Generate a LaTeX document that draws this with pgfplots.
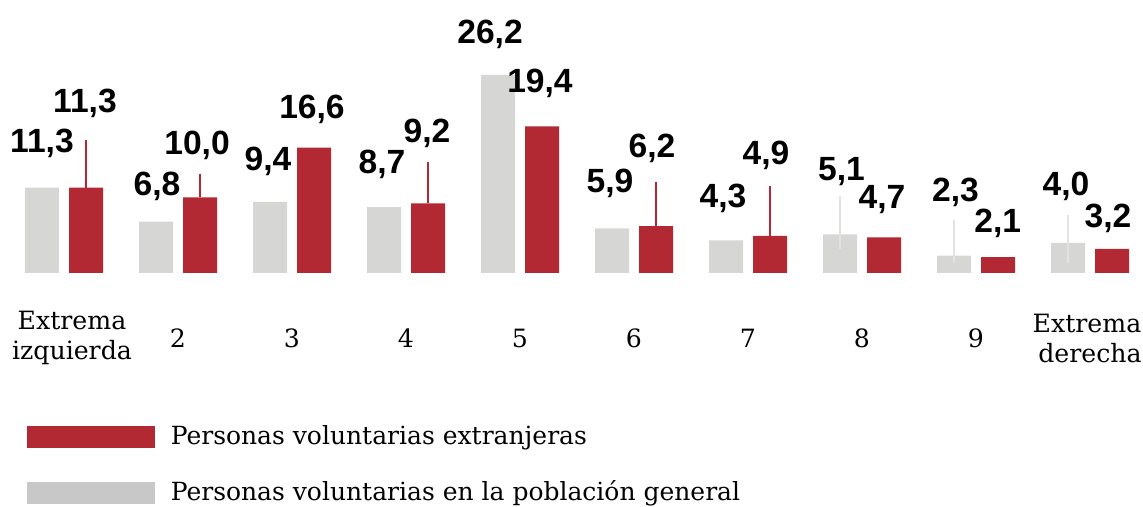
\documentclass[border=0pt]{standalone}
\usepackage{fontspec}
\setmainfont{DejaVu Serif}
\newfontfamily\labfamily{Liberation Sans}
\usepackage{pgfplots}
\usepackage{pgfplotstable}
\pgfplotsset{compat=1.18}
\definecolor{redc}{HTML}{B22833}
\definecolor{grayc}{HTML}{D6D6D4}
\definecolor{graylg}{HTML}{C8C8C8}
\definecolor{grayerr}{HTML}{E2E2E2}
\newcommand{\labfont}{\labfamily\bfseries\fontsize{16.8}{20}\selectfont}
\pgfplotstableread{
x y ep em
-0.193 11.3 0 0
0.807 6.8 0 0
1.807 9.4 0 0
2.807 8.7 0 0
3.807 26.2 0 0
4.807 5.9 0 0
5.807 4.3 0 0
6.807 5.1 5.1 1.9
7.807 2.3 4.7 1.0
8.807 4.0 3.7 2.7
}\graydata
\pgfplotstableread{
x y ep em
0.193 11.3 6.3 0
1.193 10.0 3.1 0
2.193 16.6 0 0
3.193 9.2 5.5 0
4.193 19.4 0 0
5.193 6.2 5.8 0
6.193 4.9 6.6 0
7.193 4.7 0 0
8.193 2.1 0 0
9.193 3.2 0 0
}\reddata
\pgfplotstableread{
x y lab
-0.193 16.0 {11,3}
0.816 10.3 {6,8}
1.79 13.6 {9,4}
2.79 13.2 {8,7}
3.737 30.4 {26,2}
4.79 10.6 {5,9}
5.78 8.7 {4,3}
6.82 12.2 {5,1}
7.82 9.4 {2,3}
8.79 10.3 {4,0}
}\graylab
\pgfplotstableread{
x y lab
0.184 21.2 {11,3}
1.167 15.7 {10,0}
2.175 20.4 {16,6}
3.184 17.2 {9,2}
4.175 23.9 {19,4}
5.158 15.3 {6,2}
6.158 14.3 {4,9}
7.175 8.5 {4,7}
8.19 5.3 {2,1}
9.158 6.0 {3,2}
}\redlab
\begin{document}
\begin{tikzpicture}
\begin{axis}[
  scale only axis,
  width=571.5pt, height=136.5pt,
  xmin=-0.5614, xmax=9.4649,
  ymin=0, ymax=36.111,
  clip=false,
  axis line style={draw=none},
  ytick=\empty,
  xtick={0,...,9},
  xticklabels={{\hspace*{8pt}Extrema\\\hspace*{8pt}izquierda},2,3,4,5,6,7,8,9,{Extrema\hspace*{3pt}\\derecha}},
  major tick length=0pt,
  xtick style={draw=none},
  xticklabel style={anchor=center, yshift=-32.5pt, align=center, font=\fontsize{12.6}{15}\selectfont},
  legend style={at={(axis cs:-0.3246,-25.56)}, anchor=west, draw=none, fill=none,
    inner sep=0pt, outer sep=0pt, row sep=16pt, column sep=8pt,
    font=\fontsize{12.5}{14}\selectfont,
    nodes={inner sep=0pt, text height=9pt, text depth=3pt}},
  legend cell align=left,
]
\addplot[forget plot, ybar, bar width=17pt, bar shift=0pt, fill=grayc, draw=none,
  error bars/.cd, y dir=both, y explicit, error mark=none,
  error bar style={grayerr, line width=1.2pt}]
  table[x=x, y=y, y error plus=ep, y error minus=em]{\graydata};
\addplot[forget plot, ybar, bar width=17pt, bar shift=0pt, fill=redc, draw=none,
  error bars/.cd, y dir=both, y explicit, error mark=none,
  error bar style={redc, line width=1.3pt}]
  table[x=x, y=y, y error plus=ep, y error minus=em]{\reddata};
\addplot[forget plot, draw=none, mark=none, nodes near coords, point meta=explicit symbolic,
  every node near coord/.append style={anchor=base, inner sep=0pt, font=\labfont, text=black}]
  table[x=x, y=y, meta=lab]{\graylab};
\addplot[forget plot, draw=none, mark=none, nodes near coords, point meta=explicit symbolic,
  every node near coord/.append style={anchor=base, inner sep=0pt, font=\labfont, text=black}]
  table[x=x, y=y, meta=lab]{\redlab};
\addlegendimage{legend image code/.code={\fill[redc] (0pt,-4.75pt) rectangle (63.5pt,5.75pt);}}
\addlegendentry{Personas voluntarias extranjeras}
\addlegendimage{legend image code/.code={\fill[graylg] (0pt,-4.75pt) rectangle (63.5pt,5.75pt);}}
\addlegendentry{Personas voluntarias en la población general}
\coordinate (bl) at (axis cs:-0.5614,-30.95);
\coordinate (tr) at (axis cs:9.4649,36.111);
\end{axis}
\pgfresetboundingbox
\path[use as bounding box] (bl) rectangle (tr);
\end{tikzpicture}
\end{document}
